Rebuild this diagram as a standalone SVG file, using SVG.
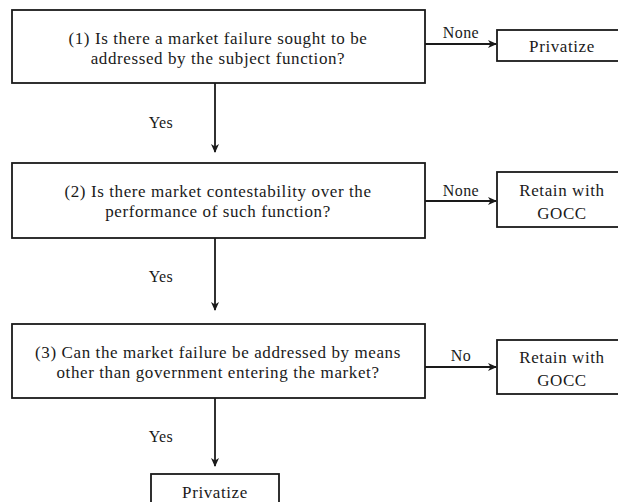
<svg xmlns="http://www.w3.org/2000/svg" width="618" height="502" viewBox="0 0 618 502">
<style>
.box{fill:#fff;stroke:#1a1a1a;stroke-width:1.8}
.t{font-family:"Liberation Serif","Times New Roman","DejaVu Serif",serif;font-size:17px;letter-spacing:0.6px;fill:#1a1a1a;text-anchor:middle}
.l{font-family:"Liberation Serif","Times New Roman","DejaVu Serif",serif;font-size:16px;letter-spacing:0.4px;fill:#1a1a1a;text-anchor:middle}
.c{stroke:#1a1a1a;stroke-width:1.8;fill:none;marker-end:url(#ah)}
</style>
<defs>
<marker id="ah" markerWidth="9" markerHeight="9" refX="8" refY="4.5" orient="auto" markerUnits="userSpaceOnUse">
<path d="M0,0.5 L9,4.5 L0,8.5 L2.5,4.5 Z" fill="#1a1a1a"/>
</marker>
</defs>
<rect width="618" height="502" fill="#fff"/>
<g id="q1">
<rect class="box" x="12" y="10" width="413" height="73"/>
<text class="t" x="218" y="44">(1) Is there a market failure sought to be</text>
<text class="t" x="218" y="64">addressed by the subject function?</text>
</g>
<g id="privatize1">
<rect class="box" x="497" y="30" width="130" height="31"/>
<text class="t" x="562" y="52">Privatize</text>
</g>
<g id="q2">
<rect class="box" x="12" y="163" width="413" height="75"/>
<text class="t" x="218" y="197">(2) Is there market contestability over the</text>
<text class="t" x="218" y="217">performance of such function?</text>
</g>
<g id="retain2">
<rect class="box" x="497" y="172" width="130" height="55"/>
<text class="t" x="562" y="196">Retain with</text>
<text class="t" x="562" y="219">GOCC</text>
</g>
<g id="q3">
<rect class="box" x="12" y="324" width="413" height="74"/>
<text class="t" x="218" y="358">(3) Can the market failure be addressed by means</text>
<text class="t" x="218" y="378">other than government entering the market?</text>
</g>
<g id="retain3">
<rect class="box" x="497" y="340" width="130" height="54"/>
<text class="t" x="562" y="363">Retain with</text>
<text class="t" x="562" y="386">GOCC</text>
</g>
<g id="privatize2">
<rect class="box" x="151" y="474" width="128" height="40"/>
<text class="t" x="215" y="498">Privatize</text>
</g>
<g id="connectors">
<path class="c" d="M215,83 V152"/>
<path class="c" d="M215,238 V310"/>
<path class="c" d="M215,398 V466"/>
<path class="c" d="M425,44 H496"/>
<path class="c" d="M425,201 H496"/>
<path class="c" d="M425,367 H496"/>
<text class="l" x="161" y="128">Yes</text>
<text class="l" x="161" y="282">Yes</text>
<text class="l" x="161" y="442">Yes</text>
<text class="l" x="461" y="38">None</text>
<text class="l" x="461" y="196">None</text>
<text class="l" x="461" y="361">No</text>
</g>
</svg>
